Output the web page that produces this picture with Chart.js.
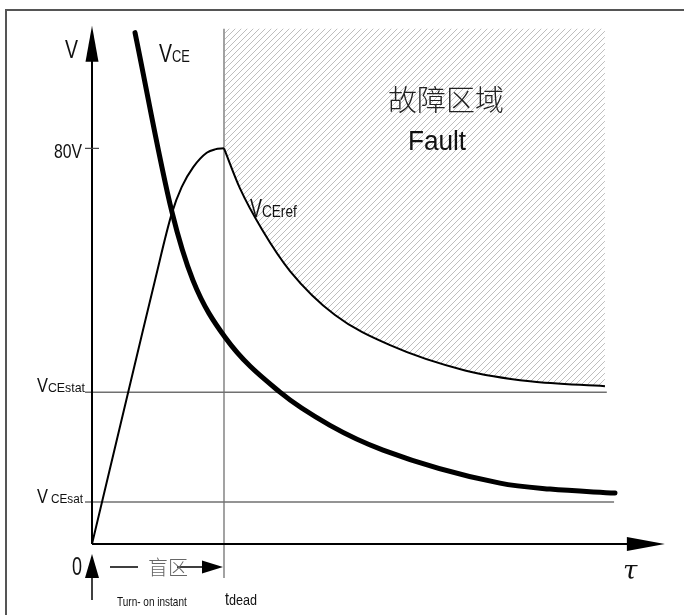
<!DOCTYPE html>
<html>
<head>
<meta charset="utf-8">
<script src="https://cdn.jsdelivr.net/npm/chart.js@4.4.1/dist/chart.umd.min.js"></script>
<style>
  html, body { margin: 0; padding: 0; background: #fff; }
  canvas { display: block; }
</style>
</head>
<body>
<canvas id="c" width="684" height="615"></canvas>
<script>
// Diagrama de dessaturação: V_CE (traço grosso) x V_CEref (limite da zona de falha)
// Unidades arbitrárias: x = tempo (t_dead = 10), y = tensão (80 V no pico de referência)

// V_CE -- curva de queda após o ligamento
var vceX = [3.26, 6.06, 7.65, 10.08, 14.24, 18.03, 22.05, 30.91, 34.70, 39.62];
var vceY = [103.4, 67.1, 53.3, 41.8, 30.7, 24.0, 19.0, 12.3, 11.1, 10.3];

// V_CEref -- rampa até 80 V dentro do "盲区"
var refRiseX = [0, 3.86, 4.77, 6.04, 6.80, 7.67, 8.69, 9.32, 10.0];
var refRiseY = [0, 43.2, 53.3, 66.8, 72.2, 76.2, 79.1, 79.8, 80.0];

// V_CEref -- decaimento depois de t_dead
var refFallX = [10.0, 11.21, 12.88, 15.00, 18.41, 22.58, 28.26, 33.18, 38.86];
var refFallY = [80.0, 71.9, 63.6, 55.2, 46.3, 40.2, 35.1, 32.9, 31.9];

// limite superior da área hachurada (falha)
var faultTopX = [10.0, 38.86];
var faultTopY = [104.2, 104.2];

// níveis de referência
var vceStatY = 30.7;
var vceSatY = 8.5;
var statEndX = 39.0;
var satEndX = 39.55;
var tickStartX = -0.53;
var tDead = 10;
var tDeadBottomY = -6.9;
var yTickValues = [80];
var yTickLabels = ["80V"];
var yAxisTip = 104.8;
var xAxisTip = 43.4;

function pts(xs, ys) {
  return xs.map(function (x, i) { return { x: x, y: ys[i] }; });
}

function hatchPattern() {
  var s = 6;
  var c = document.createElement("canvas");
  c.width = s; c.height = s;
  var g = c.getContext("2d");
  g.strokeStyle = "#a8a8a8";
  g.lineWidth = 0.75;
  g.beginPath();
  g.moveTo(0, s); g.lineTo(s, 0);
  g.moveTo(-1, 1); g.lineTo(1, -1);
  g.moveTo(s - 1, s + 1); g.lineTo(s + 1, s - 1);
  g.stroke();
  return g.createPattern(c, "repeat");
}

// texto com partes (V + subscrito), cada parte com condensação horizontal própria
function drawParts(ctx, x, base, parts, align) {
  var w = 0;
  parts.forEach(function (p) {
    ctx.font = p.f;
    p.w = ctx.measureText(p.t).width * (p.k || 1);
    w += p.w + (p.gap || 0);
  });
  var cx = align === "right" ? x - w : align === "center" ? x - w / 2 : x;
  parts.forEach(function (p) {
    cx += (p.gap || 0);
    ctx.save();
    ctx.font = p.f;
    ctx.fillStyle = p.c || "#111";
    ctx.textBaseline = "alphabetic";
    ctx.translate(cx, base);
    ctx.scale(p.k || 1, 1);
    ctx.fillText(p.t, 0, 0);
    ctx.restore();
    cx += p.w;
  });
}

function tri(ctx, a, b, c) {
  ctx.beginPath();
  ctx.moveTo(a[0], a[1]); ctx.lineTo(b[0], b[1]); ctx.lineTo(c[0], c[1]);
  ctx.closePath();
  ctx.fill();
}

var SANS = '"Liberation Sans", Arial, sans-serif';

var schematic = {
  id: "schematic",
  afterDatasetsDraw: function (chart) {
    var ctx = chart.ctx;
    var sx = chart.scales.x, sy = chart.scales.y;
    var px = function (v) { return sx.getPixelForValue(v); };
    var py = function (v) { return sy.getPixelForValue(v); };
    var x0 = px(0), y0 = py(0);

    ctx.save();
    // moldura
    ctx.strokeStyle = "#555";
    ctx.lineWidth = 2;
    ctx.beginPath();
    ctx.moveTo(6, 615); ctx.lineTo(6, 10); ctx.lineTo(684, 10);
    ctx.stroke();

    // eixos
    ctx.strokeStyle = "#000";
    ctx.fillStyle = "#000";
    ctx.lineWidth = 2;
    ctx.beginPath();
    ctx.moveTo(x0, y0); ctx.lineTo(x0, py(yAxisTip) + 30);
    ctx.moveTo(x0, y0); ctx.lineTo(px(xAxisTip) - 34, y0);
    ctx.stroke();
    tri(ctx, [x0, py(yAxisTip)], [x0 - 6.5, py(yAxisTip) + 36], [x0 + 6.5, py(yAxisTip) + 36]);
    tri(ctx, [px(xAxisTip), y0], [px(xAxisTip) - 38, y0 - 7], [px(xAxisTip) - 38, y0 + 7]);

    // tick 80V
    ctx.strokeStyle = "#444";
    ctx.lineWidth = 1.2;
    yTickValues.forEach(function (v, i) {
      ctx.beginPath();
      ctx.moveTo(px(tickStartX), py(v)); ctx.lineTo(px(-tickStartX), py(v));
      ctx.stroke();
      drawParts(ctx, px(tickStartX) - 3, py(v) + 10, [{ t: yTickLabels[i], f: "21px " + SANS, k: 0.75 }], "right");
    });

    // seta "Turn-on instant"
    ctx.strokeStyle = "#000";
    ctx.lineWidth = 1.5;
    ctx.beginPath();
    ctx.moveTo(x0, y0 + 34); ctx.lineTo(x0, y0 + 56);
    ctx.stroke();
    tri(ctx, [x0, y0 + 10], [x0 - 7, y0 + 34], [x0 + 7, y0 + 34]);

    // — 盲区 →
    var ay = y0 + 23;
    ctx.beginPath();
    ctx.moveTo(x0 + 18, ay); ctx.lineTo(x0 + 46, ay);
    ctx.moveTo(x0 + 85, ay); ctx.lineTo(px(tDead) - 20, ay);
    ctx.stroke();
    tri(ctx, [px(tDead) - 1, ay], [px(tDead) - 22, ay - 6.5], [px(tDead) - 22, ay + 6.5]);
    drawParts(ctx, x0 + 56, ay + 8, [{ t: "盲区", f: '300 20px "Noto Sans CJK SC"', c: "#666" }]);

    // rótulos
    drawParts(ctx, x0 - 27, 58, [{ t: "V", f: "25px " + SANS, k: 0.78 }]);
    drawParts(ctx, 159, 62, [
      { t: "V", f: "26px " + SANS, k: 0.75 },
      { t: "CE", f: "17px " + SANS, k: 0.76 }
    ]);
    drawParts(ctx, 250, 217, [
      { t: "V", f: "26px " + SANS, k: 0.69 },
      { t: "CEref", f: "17px " + SANS, k: 0.8 }
    ]);
    drawParts(ctx, 37, py(vceStatY), [
      { t: "V", f: "20px " + SANS, k: 0.82 },
      { t: "CEstat", f: "13px " + SANS, k: 0.95 }
    ]);
    drawParts(ctx, 37, py(vceSatY) + 1, [
      { t: "V", f: "21px " + SANS, k: 0.78 },
      { t: "CEsat", f: "12px " + SANS, k: 0.98, gap: 3 }
    ]);
    drawParts(ctx, 72, y0 + 31, [{ t: "0", f: "25px " + SANS, k: 0.72 }]);
    drawParts(ctx, 117, y0 + 62, [{ t: "Turn- on instant", f: "13px " + SANS, k: 0.77 }]);
    drawParts(ctx, px(tDead) + 1, y0 + 61, [
      { t: "t", f: "18px " + SANS, k: 0.8 },
      { t: "dead", f: "14px " + SANS, k: 0.9 }
    ]);
    drawParts(ctx, 623, y0 + 35, [{ t: "τ", f: 'italic 26px "DejaVu Serif"' }]);

    drawParts(ctx, 446, 111, [{ t: "故障区域", f: '300 29px "Noto Sans CJK SC"', c: "#222" }], "center");
    drawParts(ctx, 437, 150, [{ t: "Fault", f: "27px " + SANS, k: 0.97 }], "center");
    ctx.restore();
  }
};

new Chart(document.getElementById("c"), {
  type: "scatter",
  data: {
    datasets: [
      { label: "VCE", data: pts(vceX, vceY), showLine: true, borderColor: "#000", borderWidth: 5,
        cubicInterpolationMode: "monotone", pointRadius: 0, borderCapStyle: "round" },
      { label: "VCEref (decay)", data: pts(refFallX, refFallY), showLine: true, borderColor: "#000", borderWidth: 2,
        cubicInterpolationMode: "monotone", pointRadius: 0 },
      { label: "VCEref (rise)", data: pts(refRiseX, refRiseY), showLine: true, borderColor: "#000", borderWidth: 2,
        cubicInterpolationMode: "monotone", pointRadius: 0 },
      { label: "VCEstat", data: [{ x: tickStartX, y: vceStatY }, { x: statEndX, y: vceStatY }], showLine: true,
        borderColor: "#707070", borderWidth: 1.5, pointRadius: 0, clip: false },
      { label: "VCEsat", data: [{ x: tickStartX, y: vceSatY }, { x: satEndX, y: vceSatY }], showLine: true,
        borderColor: "#707070", borderWidth: 1.5, pointRadius: 0, clip: false },
      { label: "tdead", data: [{ x: tDead, y: faultTopY[0] }, { x: tDead, y: tDeadBottomY }], showLine: true,
        borderColor: "#999", borderWidth: 1.8, pointRadius: 0, clip: false },
      { label: "Fault", data: pts(faultTopX, faultTopY), showLine: true, borderWidth: 0, borderColor: "rgba(0,0,0,0)",
        pointRadius: 0, fill: 1, backgroundColor: hatchPattern() }
    ]
  },
  options: {
    responsive: false,
    animation: false,
    events: [],
    layout: { padding: { left: 92, right: 11.2, top: 0, bottom: 71 } },
    scales: {
      x: { type: "linear", min: 0, max: 44, display: false },
      y: { type: "linear", min: 0, max: 110, display: false }
    },
    plugins: { legend: { display: false }, tooltip: { enabled: false } }
  },
  plugins: [schematic]
});
</script>
</body>
</html>
